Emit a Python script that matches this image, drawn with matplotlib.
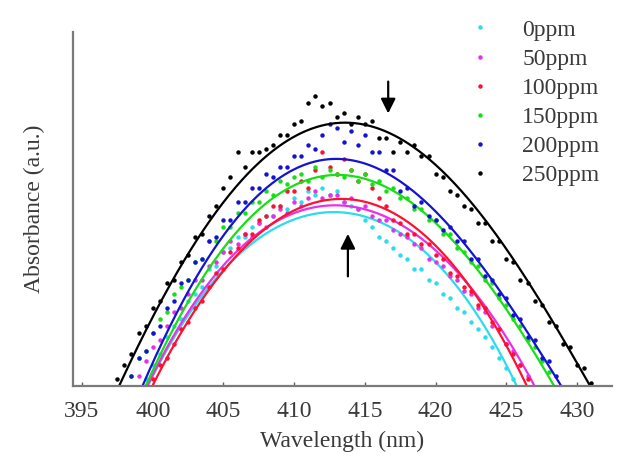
import numpy as np
import matplotlib.pyplot as plt

plt.rcParams['font.family'] = ['Liberation Serif', 'DejaVu Serif']

labels = ['0ppm', '50ppm', '100ppm', '150ppm', '200ppm', '250ppm']
colors = ['#2adcec', '#e830e8', '#ff1030', '#14e014', '#1414d0', '#000000']
xticks = [395, 400, 405, 410, 415, 420, 425, 430]

# measured spectra, one point every 0.5 nm from the start wavelength
step = 0.5
start_0 = 399.5
abs_0 = [0.02, 0.06, 0.09, 0.14, 0.17, 0.19, 0.24, 0.26, 0.28, 0.33, 0.34,
         0.38, 0.39, 0.42, 0.42, 0.45, 0.46, 0.48, 0.48, 0.51, 0.50, 0.53,
         0.52, 0.55, 0.54, 0.56, 0.54, 0.55, 0.52, 0.51, 0.50, 0.47, 0.45,
         0.42, 0.41, 0.39, 0.37, 0.36, 0.33, 0.33, 0.30, 0.29, 0.26, 0.25,
         0.22, 0.21, 0.18, 0.16, 0.14, 0.11, 0.08, 0.05, 0.02]
start_50 = 399.0
abs_50 = [0.03, 0.07, 0.11, 0.13, 0.17, 0.21, 0.22, 0.26, 0.30, 0.30, 0.34,
          0.35, 0.38, 0.41, 0.40, 0.43, 0.42, 0.46, 0.45, 0.48, 0.50, 0.49,
          0.52, 0.51, 0.53, 0.55, 0.53, 0.54, 0.54, 0.52, 0.53, 0.50, 0.51,
          0.48, 0.47, 0.47, 0.44, 0.43, 0.42, 0.40, 0.39, 0.36, 0.35, 0.34,
          0.31, 0.30, 0.27, 0.26, 0.22, 0.21, 0.17, 0.16, 0.12, 0.10, 0.06,
          0.03]
start_100 = 400.0
abs_100 = [0.02, 0.06, 0.08, 0.12, 0.16, 0.18, 0.22, 0.24, 0.28, 0.32, 0.33,
           0.38, 0.39, 0.43, 0.43, 0.47, 0.48, 0.51, 0.51, 0.55, 0.55, 0.58,
           0.56, 0.61, 0.66, 0.62, 0.60, 0.64, 0.61, 0.58, 0.60, 0.56, 0.53,
           0.51, 0.47, 0.46, 0.43, 0.43, 0.40, 0.40, 0.37, 0.36, 0.32, 0.31,
           0.28, 0.27, 0.23, 0.22, 0.18, 0.16, 0.12, 0.09, 0.06, 0.02]
start_150 = 398.5
abs_150 = [0.03, 0.08, 0.10, 0.15, 0.19, 0.21, 0.26, 0.28, 0.30, 0.35, 0.36,
           0.41, 0.41, 0.45, 0.45, 0.49, 0.49, 0.52, 0.52, 0.55, 0.54, 0.58,
           0.57, 0.59, 0.60, 0.58, 0.62, 0.59, 0.61, 0.60, 0.59, 0.61, 0.58,
           0.60, 0.57, 0.58, 0.55, 0.56, 0.53, 0.53, 0.50, 0.50, 0.47, 0.47,
           0.43, 0.43, 0.39, 0.38, 0.35, 0.34, 0.30, 0.29, 0.25, 0.23, 0.19,
           0.17, 0.13, 0.11, 0.07, 0.04]
start_200 = 398.5
abs_200 = [0.03, 0.08, 0.10, 0.15, 0.17, 0.22, 0.24, 0.29, 0.30, 0.35, 0.36,
           0.41, 0.42, 0.47, 0.47, 0.52, 0.52, 0.56, 0.56, 0.60, 0.59, 0.62,
           0.62, 0.65, 0.65, 0.68, 0.67, 0.71, 0.74, 0.73, 0.69, 0.72, 0.68,
           0.71, 0.66, 0.66, 0.61, 0.61, 0.55, 0.56, 0.51, 0.52, 0.48, 0.47,
           0.44, 0.45, 0.41, 0.41, 0.36, 0.36, 0.31, 0.30, 0.26, 0.25, 0.20,
           0.19, 0.14, 0.13, 0.08, 0.07, 0.03]
start_250 = 397.5
abs_250 = [0.02, 0.06, 0.09, 0.15, 0.17, 0.22, 0.24, 0.29, 0.30, 0.35, 0.37,
           0.42, 0.43, 0.48, 0.51, 0.56, 0.59, 0.66, 0.62, 0.66, 0.66, 0.67,
           0.68, 0.71, 0.71, 0.74, 0.75, 0.80, 0.82, 0.79, 0.80, 0.76, 0.77,
           0.74, 0.76, 0.74, 0.75, 0.70, 0.70, 0.66, 0.69, 0.66, 0.68, 0.65,
           0.65, 0.60, 0.59, 0.55, 0.54, 0.51, 0.50, 0.46, 0.46, 0.41, 0.41,
           0.36, 0.35, 0.30, 0.29, 0.24, 0.23, 0.18, 0.17, 0.12, 0.11, 0.06,
           0.05, 0.01]

# fitted curves, read at a few wavelengths
fit_wl_0 = [399.6, 401.5, 403.35, 405.7, 408.05, 410.4, 412.75, 415.1,
            417.45, 419.8, 422.2, 424.55, 425.6]
fit_abs_0 = [0.0, 0.13, 0.25, 0.355, 0.435, 0.478, 0.492, 0.478, 0.43,
             0.356, 0.243, 0.111, 0.0]
fit_wl_50 = [399.6, 401.5, 403.35, 405.7, 408.05, 410.4, 412.75, 415.1,
             417.45, 419.8, 422.2, 424.55, 427.0]
fit_abs_50 = [0.0, 0.14, 0.262, 0.37, 0.45, 0.492, 0.508, 0.502, 0.46,
              0.389, 0.29, 0.168, 0.0]
fit_wl_100 = [399.95, 401.5, 403.35, 405.7, 408.05, 410.4, 412.75, 415.1,
              417.45, 419.8, 422.2, 424.55, 426.4]
fit_abs_100 = [0.0, 0.11, 0.243, 0.356, 0.445, 0.502, 0.530, 0.525, 0.478,
               0.398, 0.29, 0.158, 0.0]
fit_wl_150 = [399.5, 401.0, 403.35, 405.7, 408.05, 410.4, 412.75, 415.1,
              417.45, 419.8, 422.2, 424.55, 426.9, 428.4]
fit_abs_150 = [0.0, 0.12, 0.309, 0.422, 0.511, 0.568, 0.596, 0.591, 0.544,
               0.469, 0.365, 0.238, 0.102, 0.0]
fit_wl_200 = [399.3, 401.0, 403.35, 405.7, 408.05, 410.4, 412.75, 415.1,
              417.45, 419.8, 422.2, 424.55, 426.9, 428.9]
fit_abs_200 = [0.0, 0.15, 0.337, 0.459, 0.554, 0.615, 0.641, 0.634, 0.582,
               0.502, 0.394, 0.262, 0.13, 0.0]
fit_wl_250 = [397.6, 399.0, 401.0, 403.35, 405.7, 408.05, 410.4, 412.75,
              415.1, 417.45, 419.8, 422.2, 424.55, 426.9, 429.25, 430.9]
fit_abs_250 = [0.0, 0.115, 0.27, 0.422, 0.554, 0.655, 0.714, 0.742, 0.737,
               0.697, 0.63, 0.535, 0.414, 0.272, 0.12, 0.0]

starts = [start_0, start_50, start_100, start_150, start_200, start_250]
spectra = [abs_0, abs_50, abs_100, abs_150, abs_200, abs_250]
fit_wls = [fit_wl_0, fit_wl_50, fit_wl_100, fit_wl_150, fit_wl_200, fit_wl_250]
fit_abss = [fit_abs_0, fit_abs_50, fit_abs_100, fit_abs_150, fit_abs_200,
            fit_abs_250]

fig = plt.figure(figsize=(6.18, 4.57), dpi=100)
ax = fig.add_axes([0.118, 0.155, 0.872, 0.775])

handles = []
for lab, col, x0, ys, fx, fy in zip(labels, colors, starts, spectra,
                                    fit_wls, fit_abss):
    xs = x0 + step * np.arange(len(ys))
    h, = ax.plot(xs, ys, 'o', ms=3.2, mec='none', color=col, label=lab)
    handles.append(h)
    coef = np.polyfit(fx, fy, 4)
    xx = np.linspace(fx[0] - 0.6, fx[-1] + 0.6, 300)
    ax.plot(xx, np.polyval(coef, xx), '-', lw=1.6, color=col)

# arrows marking the peak shift
arrow = dict(arrowstyle='-|>', color='black', lw=1.6,
             mutation_scale=22, shrinkA=0, shrinkB=0)
ax.annotate('', xy=(416.65, 0.77), xytext=(416.65, 0.86), arrowprops=arrow)
ax.annotate('', xy=(413.8, 0.43), xytext=(413.8, 0.31), arrowprops=arrow)

ax.set_xlim(394.36, 432.46)
ax.set_ylim(0, 1.0)
ax.set_xticks(xticks)
ax.set_yticks([])
ax.tick_params(axis='x', direction='in', length=3, width=1, color='#606060',
               labelsize=17, labelcolor='#3a3a3a', pad=11)
for side in ['top', 'right']:
    ax.spines[side].set_visible(False)
for side in ['left', 'bottom']:
    ax.spines[side].set_color('#7a7a7a')
    ax.spines[side].set_linewidth(1.6)

ax.set_xlabel('Wavelength (nm)', fontsize=17, color='#3a3a3a', labelpad=6)
ax.set_ylabel('Absorbance (a.u.)', fontsize=17, color='#3a3a3a', labelpad=20)

leg = fig.legend(handles=handles, loc='upper left',
                 bbox_to_anchor=(0.738, 0.958), bbox_transform=fig.transFigure,
                 frameon=False, fontsize=17, markerscale=1.0,
                 handlelength=2.0, handletextpad=0.8, labelspacing=0.32,
                 borderpad=0, borderaxespad=0)
for t in leg.get_texts():
    t.set_color('#3a3a3a')

fig.savefig('out.png', dpi=100)
